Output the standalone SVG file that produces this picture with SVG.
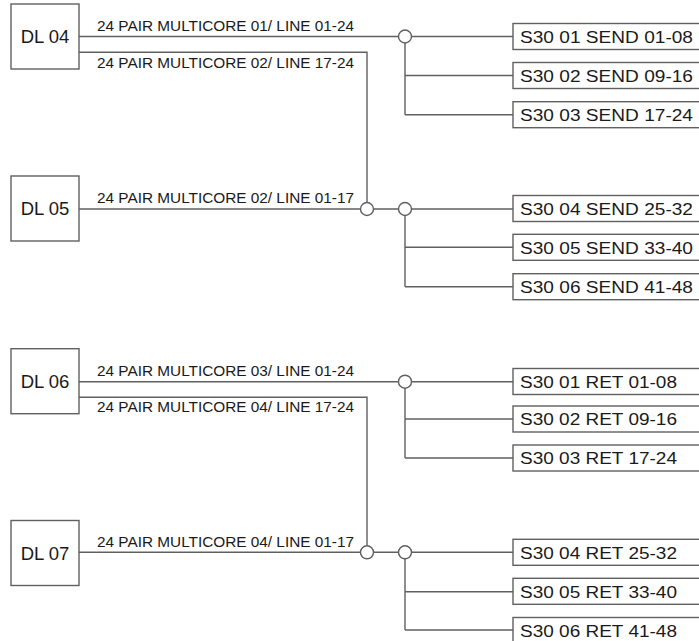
<svg xmlns="http://www.w3.org/2000/svg" width="699" height="641" viewBox="0 0 699 641">
<style>
.box{fill:#fff;stroke:#606060;stroke-width:1.4}
.ln{fill:none;stroke:#606060;stroke-width:1.4}
.jn{fill:#fff;stroke:#606060;stroke-width:1.4}
.dl{font-family:"Liberation Sans",Arial,sans-serif;font-size:18.5px;fill:#1a1a1a}
.lab{font-family:"Liberation Sans",Arial,sans-serif;font-size:13.8px;fill:#1a1a1a}
.st{font-family:"Liberation Sans",Arial,sans-serif;font-size:16.8px;fill:#1a1a1a}
</style>
<rect width="699" height="641" fill="#fff"/>
<g id="connectors">
  <path class="ln" d="M79 36.5H398.5M411.5 36.5H513M405 43V114.7M405 75.5H513M405 114.7H513"/>
  <path class="ln" d="M79 52.3H367V202.5"/>
  <path class="ln" d="M79 209H360.5M373.5 209H398.5M411.5 209H513M405 215.5V286.7M405 247.3H513M405 286.7H513"/>
  <circle class="jn" cx="405" cy="36.5" r="6.5"/>
  <circle class="jn" cx="367" cy="209" r="6.5"/>
  <circle class="jn" cx="405" cy="209" r="6.5"/>
  <path class="ln" d="M79 381.7H398.5M411.5 381.7H513M405 388.2V458M405 419H513M405 458H513"/>
  <path class="ln" d="M79 397.3H367V545.8"/>
  <path class="ln" d="M79 552.3H360.5M373.5 552.3H398.5M411.5 552.3H513M405 558.8V630M405 591.7H513M405 630H513"/>
  <circle class="jn" cx="405" cy="381.7" r="6.5"/>
  <circle class="jn" cx="367" cy="552.3" r="6.5"/>
  <circle class="jn" cx="405" cy="552.3" r="6.5"/>
  <text class="lab" x="97" y="31" textLength="257" lengthAdjust="spacingAndGlyphs">24 PAIR MULTICORE 01/ LINE 01-24</text>
  <text class="lab" x="97" y="68" textLength="257" lengthAdjust="spacingAndGlyphs">24 PAIR MULTICORE 02/ LINE 17-24</text>
  <text class="lab" x="97" y="203.3" textLength="257" lengthAdjust="spacingAndGlyphs">24 PAIR MULTICORE 02/ LINE 01-17</text>
  <text class="lab" x="97" y="376" textLength="257" lengthAdjust="spacingAndGlyphs">24 PAIR MULTICORE 03/ LINE 01-24</text>
  <text class="lab" x="97" y="411.7" textLength="257" lengthAdjust="spacingAndGlyphs">24 PAIR MULTICORE 04/ LINE 17-24</text>
  <text class="lab" x="97" y="547.3" textLength="257" lengthAdjust="spacingAndGlyphs">24 PAIR MULTICORE 04/ LINE 01-17</text>
</g>
<g id="dl04"><rect class="box" x="11" y="4" width="68" height="65"/><text class="dl" x="20.7" y="43.3">DL 04</text></g>
<g id="dl05"><rect class="box" x="11" y="176" width="68" height="65"/><text class="dl" x="20.7" y="215.3">DL 05</text></g>
<g id="dl06"><rect class="box" x="11" y="348.7" width="68" height="65"/><text class="dl" x="20.7" y="388">DL 06</text></g>
<g id="dl07"><rect class="box" x="11" y="520.5" width="68" height="65"/><text class="dl" x="20.7" y="559.8">DL 07</text></g>
<g id="s1"><rect class="box" x="513" y="23.5" width="200" height="26"/><text class="st" x="520" y="42.8" textLength="173" lengthAdjust="spacingAndGlyphs">S30 01 SEND 01-08</text></g>
<g id="s2"><rect class="box" x="513" y="62.5" width="200" height="26"/><text class="st" x="520" y="81.8" textLength="173" lengthAdjust="spacingAndGlyphs">S30 02 SEND 09-16</text></g>
<g id="s3"><rect class="box" x="513" y="101.7" width="200" height="26"/><text class="st" x="520" y="121" textLength="173" lengthAdjust="spacingAndGlyphs">S30 03 SEND 17-24</text></g>
<g id="s4"><rect class="box" x="513" y="195.5" width="200" height="26"/><text class="st" x="520" y="214.8" textLength="173" lengthAdjust="spacingAndGlyphs">S30 04 SEND 25-32</text></g>
<g id="s5"><rect class="box" x="513" y="234.3" width="200" height="26"/><text class="st" x="520" y="253.6" textLength="173" lengthAdjust="spacingAndGlyphs">S30 05 SEND 33-40</text></g>
<g id="s6"><rect class="box" x="513" y="273.7" width="200" height="26"/><text class="st" x="520" y="293" textLength="173" lengthAdjust="spacingAndGlyphs">S30 06 SEND 41-48</text></g>
<g id="r1"><rect class="box" x="513" y="368.5" width="200" height="26"/><text class="st" x="520" y="387.8" textLength="157" lengthAdjust="spacingAndGlyphs">S30 01 RET 01-08</text></g>
<g id="r2"><rect class="box" x="513" y="406" width="200" height="26"/><text class="st" x="520" y="425.3" textLength="157" lengthAdjust="spacingAndGlyphs">S30 02 RET 09-16</text></g>
<g id="r3"><rect class="box" x="513" y="445" width="200" height="26"/><text class="st" x="520" y="464.3" textLength="157" lengthAdjust="spacingAndGlyphs">S30 03 RET 17-24</text></g>
<g id="r4"><rect class="box" x="513" y="539.3" width="200" height="26"/><text class="st" x="520" y="558.6" textLength="157" lengthAdjust="spacingAndGlyphs">S30 04 RET 25-32</text></g>
<g id="r5"><rect class="box" x="513" y="578.3" width="200" height="26"/><text class="st" x="520" y="597.6" textLength="157" lengthAdjust="spacingAndGlyphs">S30 05 RET 33-40</text></g>
<g id="r6"><rect class="box" x="513" y="617.5" width="200" height="26"/><text class="st" x="520" y="636.8" textLength="157" lengthAdjust="spacingAndGlyphs">S30 06 RET 41-48</text></g>
</svg>
